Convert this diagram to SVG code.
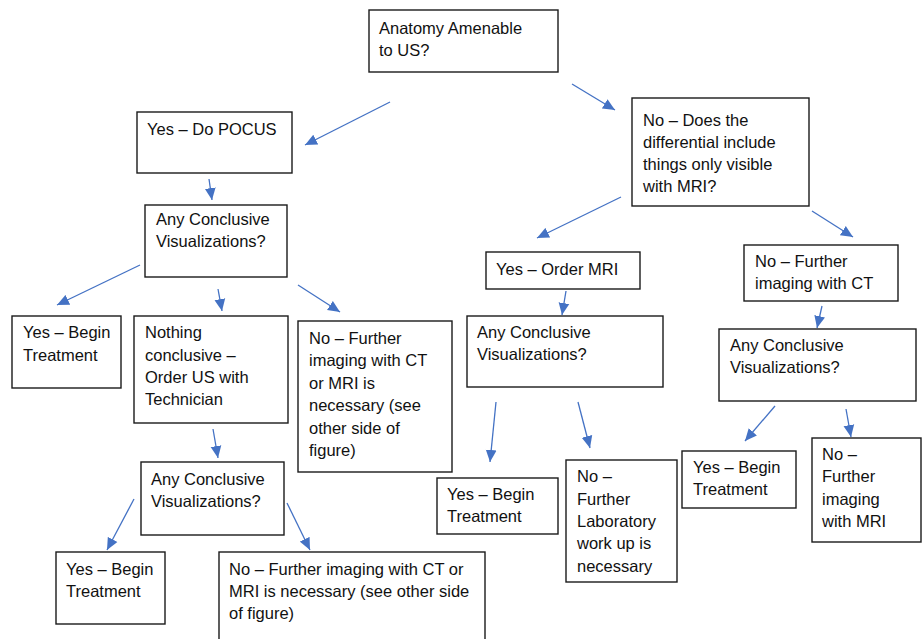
<svg xmlns="http://www.w3.org/2000/svg" width="922" height="639" viewBox="0 0 922 639">
<style>
.box{fill:#fff;stroke:#1a1a1a;stroke-width:1.4}
.t{font-family:"Liberation Sans",Arial,sans-serif;font-size:16.5px;fill:#111}
.c{stroke:#4472c4;stroke-width:1.3;fill:none;marker-end:url(#ah)}
</style>
<defs>
<marker id="ah" markerUnits="userSpaceOnUse" markerWidth="12" markerHeight="12" refX="10" refY="5" orient="auto" viewBox="0 0 10 10">
<path d="M0,0.5 L10,5 L0,9.5 Z" fill="#4472c4"/>
</marker>
</defs>
<rect width="922" height="639" fill="#fff"/>
<g id="connectors">
<line class="c" x1="390" y1="102" x2="305" y2="145"/>
<line class="c" x1="572" y1="84" x2="615" y2="110"/>
<line class="c" x1="209" y1="179" x2="212" y2="200"/>
<line class="c" x1="140" y1="265" x2="57" y2="305"/>
<line class="c" x1="218" y1="289" x2="222" y2="311"/>
<line class="c" x1="298" y1="285" x2="340" y2="312"/>
<line class="c" x1="213" y1="429" x2="218" y2="458"/>
<line class="c" x1="134" y1="499" x2="107" y2="550"/>
<line class="c" x1="287" y1="503" x2="310" y2="550"/>
<line class="c" x1="621" y1="197" x2="537" y2="238"/>
<line class="c" x1="812" y1="211" x2="853" y2="237"/>
<line class="c" x1="566" y1="291" x2="562" y2="315"/>
<line class="c" x1="822" y1="306" x2="817" y2="328"/>
<line class="c" x1="496" y1="402" x2="490" y2="462"/>
<line class="c" x1="578" y1="402" x2="590" y2="448"/>
<line class="c" x1="775" y1="406" x2="745" y2="441"/>
<line class="c" x1="846" y1="409" x2="851" y2="437"/>
</g>
<g id="n1"><rect class="box" x="369" y="10" width="189" height="62"/>
<text class="t" x="379" y="34">Anatomy Amenable</text><text class="t" x="379" y="56">to US?</text></g>
<g id="n2"><rect class="box" x="137" y="112" width="155" height="61"/>
<text class="t" x="147" y="135">Yes – Do POCUS</text></g>
<g id="n3"><rect class="box" x="632" y="98" width="177" height="108"/>
<text class="t" x="643" y="126">No – Does the</text><text class="t" x="643" y="148">differential include</text><text class="t" x="643" y="170">things only visible</text><text class="t" x="643" y="192">with MRI?</text></g>
<g id="n4"><rect class="box" x="145" y="205" width="142" height="72"/>
<text class="t" x="156" y="225">Any Conclusive</text><text class="t" x="156" y="247">Visualizations?</text></g>
<g id="n5"><rect class="box" x="12" y="316" width="109" height="72"/>
<text class="t" x="23" y="338">Yes – Begin</text><text class="t" x="23" y="361">Treatment</text></g>
<g id="n6"><rect class="box" x="134" y="316" width="154" height="107"/>
<text class="t" x="145" y="338">Nothing</text><text class="t" x="145" y="361">conclusive –</text><text class="t" x="145" y="383">Order US with</text><text class="t" x="145" y="405">Technician</text></g>
<g id="n7"><rect class="box" x="298" y="321" width="154" height="151"/>
<text class="t" x="309" y="344">No – Further</text><text class="t" x="309" y="366">imaging with CT</text><text class="t" x="309" y="389">or MRI is</text><text class="t" x="309" y="411">necessary (see</text><text class="t" x="309" y="434">other side of</text><text class="t" x="309" y="456">figure)</text></g>
<g id="n8"><rect class="box" x="141" y="462" width="143" height="73"/>
<text class="t" x="151" y="485">Any Conclusive</text><text class="t" x="151" y="507">Visualizations?</text></g>
<g id="n9"><rect class="box" x="56" y="552" width="109" height="72"/>
<text class="t" x="66" y="575">Yes – Begin</text><text class="t" x="66" y="597">Treatment</text></g>
<g id="n10"><rect class="box" x="219" y="552" width="266" height="100"/>
<text class="t" x="229" y="575">No – Further imaging with CT or</text><text class="t" x="229" y="597">MRI is necessary (see other side</text><text class="t" x="229" y="619">of figure)</text></g>
<g id="n11"><rect class="box" x="486" y="252" width="154" height="37"/>
<text class="t" x="496" y="275">Yes – Order MRI</text></g>
<g id="n12"><rect class="box" x="467" y="316" width="196" height="71"/>
<text class="t" x="477" y="338">Any Conclusive</text><text class="t" x="477" y="360">Visualizations?</text></g>
<g id="n13"><rect class="box" x="744" y="245" width="154" height="56"/>
<text class="t" x="755" y="267">No – Further</text><text class="t" x="755" y="289">imaging with CT</text></g>
<g id="n14"><rect class="box" x="719" y="329" width="197" height="72"/>
<text class="t" x="730" y="351">Any Conclusive</text><text class="t" x="730" y="373">Visualizations?</text></g>
<g id="n15"><rect class="box" x="437" y="478" width="121" height="56"/>
<text class="t" x="447" y="500">Yes – Begin</text><text class="t" x="447" y="522">Treatment</text></g>
<g id="n16"><rect class="box" x="566" y="460" width="111" height="122"/>
<text class="t" x="577" y="482">No –</text><text class="t" x="577" y="505">Further</text><text class="t" x="577" y="527">Laboratory</text><text class="t" x="577" y="549">work up is</text><text class="t" x="577" y="572">necessary</text></g>
<g id="n17"><rect class="box" x="682" y="451" width="114" height="57"/>
<text class="t" x="693" y="473">Yes – Begin</text><text class="t" x="693" y="495">Treatment</text></g>
<g id="n18"><rect class="box" x="812" y="438" width="109" height="104"/>
<text class="t" x="822" y="460">No –</text><text class="t" x="822" y="482">Further</text><text class="t" x="822" y="505">imaging</text><text class="t" x="822" y="527">with MRI</text></g>
</svg>
